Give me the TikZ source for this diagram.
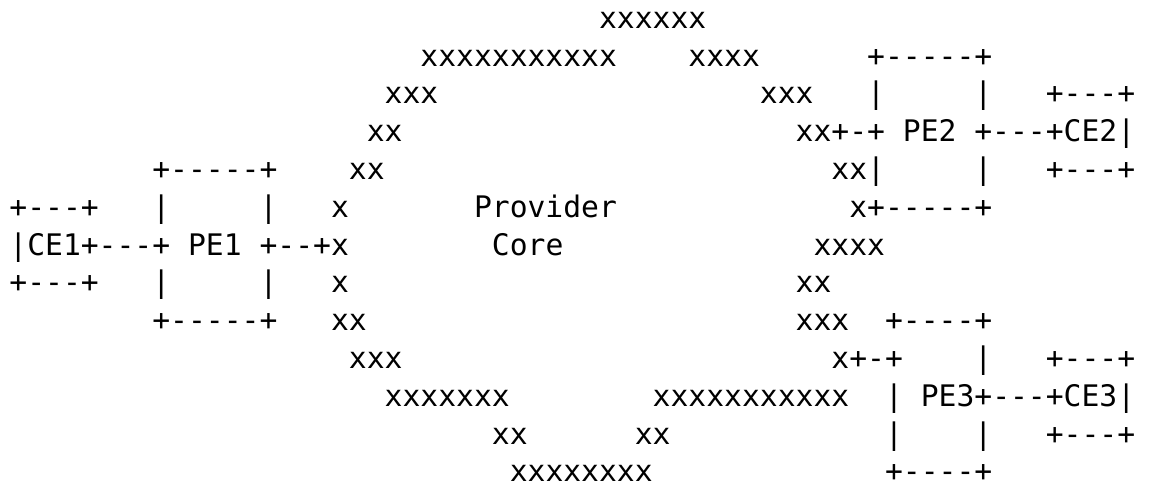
\documentclass[tikz,border=0pt]{standalone}
\usepackage{fontspec}
\setmonofont{DejaVu Sans Mono}
\begin{document}
\begin{tikzpicture}[x=0.75pt,y=0.75pt,
  ascii/.style={font=\ttfamily\fontsize{22.26}{26}\selectfont,inner sep=0pt,outer sep=0pt,text depth=0pt,anchor=base west}]
\useasboundingbox (0,0) rectangle (1151,-486);
\foreach \r/\c/\t in {1/33/xxxxxx,
  2/23/xxxxxxxxxxx,2/38/xxxx,2/48/+-----+,
  3/21/xxx,3/42/xxx,3/48/|,3/54/|,3/58/+---+,
  4/20/xx,4/44/xx+-+ PE2 +---+CE2|,
  5/8/+-----+,5/19/xx,5/46/xx|,5/54/|,5/58/+---+,
  6/0/+---+,6/8/|,6/14/|,6/18/x,6/26/Provider,6/47/x+-----+,
  7/0/|CE1+---+ PE1 +--+x,7/27/Core,7/45/xxxx,
  8/0/+---+,8/8/|,8/14/|,8/18/x,8/44/xx,
  9/8/+-----+,9/18/xx,9/44/xxx,9/49/+----+,
  10/19/xxx,10/46/x+-+,10/54/|,10/58/+---+,
  11/21/xxxxxxx,11/36/xxxxxxxxxxx,11/49/| PE3+---+CE3|,
  12/27/xx,12/35/xx,12/49/|,12/54/|,12/58/+---+,
  13/28/xxxxxxxx,13/49/+----+}
{
    \node[ascii] (t\r-\c) at ({9.4+\c*17.87},{-28.3-(\r-1)*37.8}) {\t};
}
\end{tikzpicture}
\end{document}
